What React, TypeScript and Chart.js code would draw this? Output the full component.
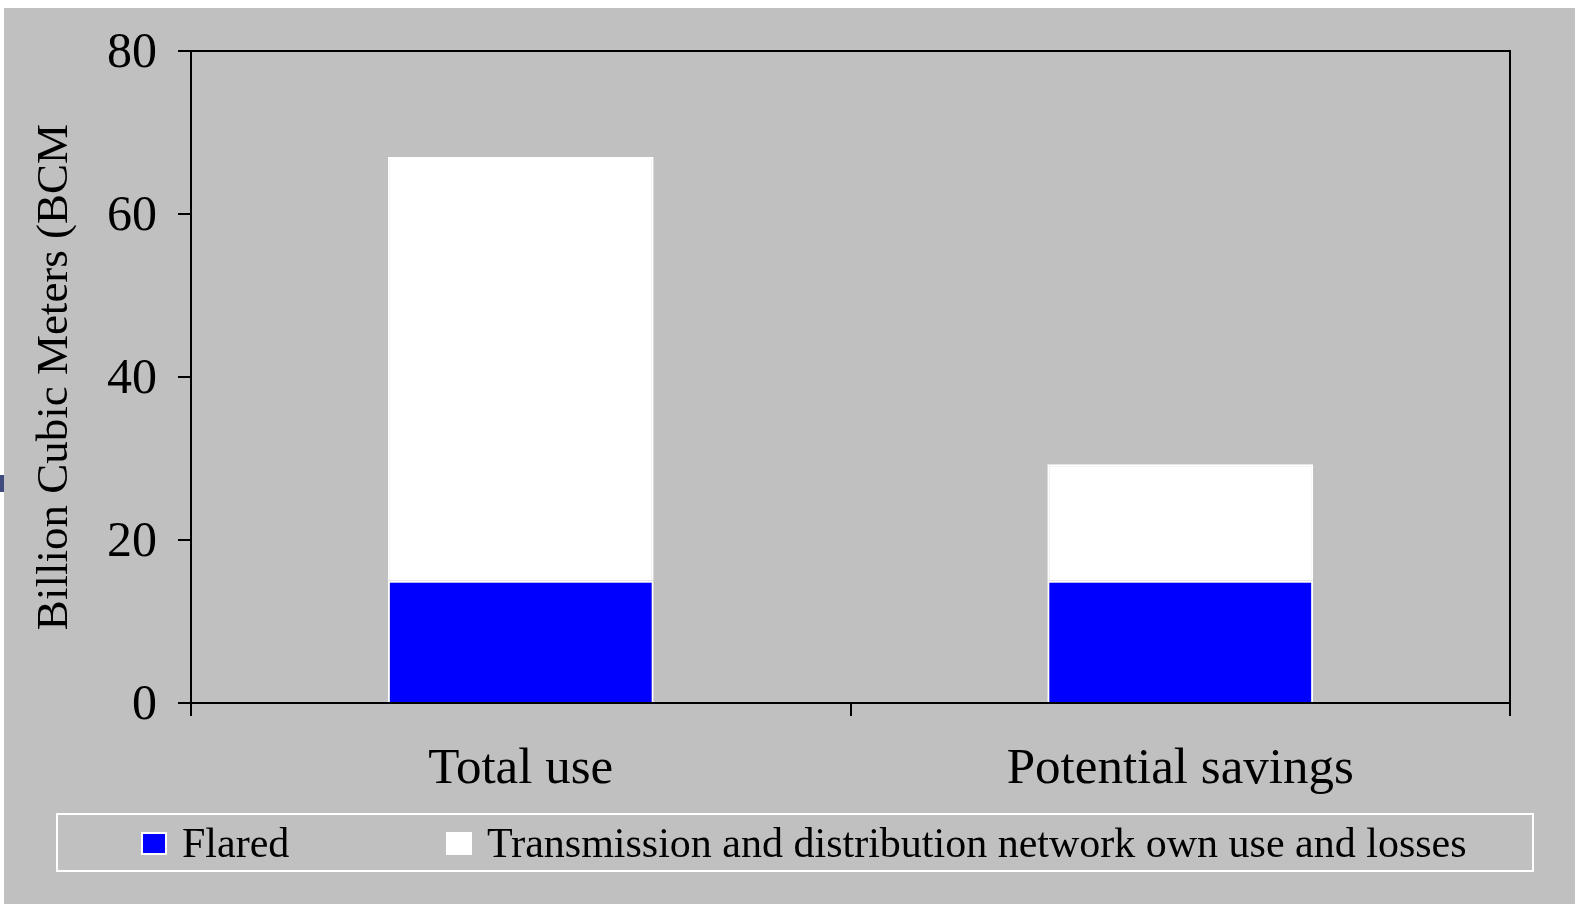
import React, { useEffect, useRef } from "react";
import { Chart, registerables } from "chart.js";

Chart.register(...registerables);

const categories = ["Total use", "Potential savings"];
const flared = [15, 15];
const transmission = [52, 14.3];
const yTicks = [0, 20, 40, 60, 80];
const seriesLabels = ["Flared", "Transmission and distribution network own use and losses"];
const yTitle = "Billion Cubic Meters (BCM";

const FONT = '"Liberation Serif", "Times New Roman", serif';

const framePlugin = {
  id: "frame",
  afterDatasetsDraw(chart: any) {
    const { ctx, chartArea } = chart;
    ctx.save();
    ctx.strokeStyle = "#000";
    ctx.lineWidth = 2;
    ctx.strokeRect(chartArea.left, chartArea.top, chartArea.right - chartArea.left, chartArea.bottom - chartArea.top);
    ctx.restore();
  },
};

const legendPlugin = {
  id: "boxLegend",
  afterDraw(chart: any) {
    const ctx = chart.ctx;
    ctx.save();
    ctx.strokeStyle = "#fff";
    ctx.lineWidth = 2;
    ctx.strokeRect(57, 814, 1476, 57);
    const itemX = [141, 446];
    chart.data.datasets.forEach((ds: any, i: number) => {
      const x = itemX[i];
      const y = 832;
      ctx.fillStyle = ds.backgroundColor;
      ctx.fillRect(x, y, 26, 23);
      ctx.strokeStyle = "#fff";
      ctx.lineWidth = 2;
      ctx.strokeRect(x + 1, y + 1, 24, 21);
      ctx.fillStyle = "#000";
      ctx.font = `42px ${FONT}`;
      ctx.textBaseline = "alphabetic";
      ctx.textAlign = "left";
      ctx.fillText(ds.label, x + 41, 857);
    });
    ctx.restore();
  },
};

export default function App() {
  const ref = useRef<HTMLCanvasElement | null>(null);

  useEffect(() => {
    if (!ref.current) return;
    const chart = new Chart(ref.current, {
      type: "bar",
      data: {
        labels: categories,
        datasets: [
          {
            label: seriesLabels[0],
            data: flared,
            backgroundColor: "#0000ff",
            borderColor: "#ffffff",
            borderWidth: 2,
          },
          {
            label: seriesLabels[1],
            data: transmission,
            backgroundColor: "#ffffff",
            borderColor: "#ffffff",
            borderWidth: 2,
          },
        ],
      },
      options: {
        responsive: false,
        animation: false,
        layout: { padding: { left: 0, top: 51, right: 65, bottom: 0 } },
        datasets: { bar: { categoryPercentage: 1, barPercentage: 0.403 } },
        plugins: {
          legend: { display: false },
          tooltip: { enabled: false },
          title: { display: false },
        },
        scales: {
          x: {
            stacked: true,
            offset: true,
            grid: {
              offset: true,
              drawOnChartArea: false,
              drawTicks: true,
              tickLength: 13,
              color: "#000",
              lineWidth: 2,
            },
            border: { display: true, color: "#000", width: 2 },
            ticks: {
              color: "#000",
              font: { family: FONT, size: 51 },
              padding: 23,
              maxRotation: 0,
            },
            afterFit: (s: any) => {
              s.height = 201;
            },
          },
          y: {
            stacked: true,
            min: 0,
            max: 80,
            afterBuildTicks: (s: any) => {
              s.ticks = yTicks.map((v) => ({ value: v }));
            },
            grid: {
              drawOnChartArea: false,
              drawTicks: true,
              tickLength: 13,
              color: "#000",
              lineWidth: 2,
            },
            border: { display: true, color: "#000", width: 2 },
            ticks: {
              color: "#000",
              font: { family: FONT, size: 50 },
              padding: 21,
              labelOffset: 3,
            },
            title: {
              display: true,
              text: yTitle,
              color: "#000",
              font: { family: FONT, size: 45 },
              padding: { top: 28, bottom: 0 },
            },
            afterFit: (s: any) => {
              s.width = 191;
            },
          },
        },
      },
      plugins: [framePlugin, legendPlugin],
    });
    return () => chart.destroy();
  }, []);

  return (
    <div style={{ position: "absolute", left: 0, top: 0, width: 1575, height: 904, background: "#ffffff", overflow: "hidden" }}>
      <div style={{ position: "absolute", left: 4, top: 8, width: 1571, height: 896, background: "#c0c0c0" }} />
      <div style={{ position: "absolute", left: 0, top: 475, width: 4, height: 17, background: "#3f4a7e" }} />
      <canvas ref={ref} width={1575} height={904} style={{ position: "absolute", left: 0, top: 0, width: 1575, height: 904 }} />
    </div>
  );
}
